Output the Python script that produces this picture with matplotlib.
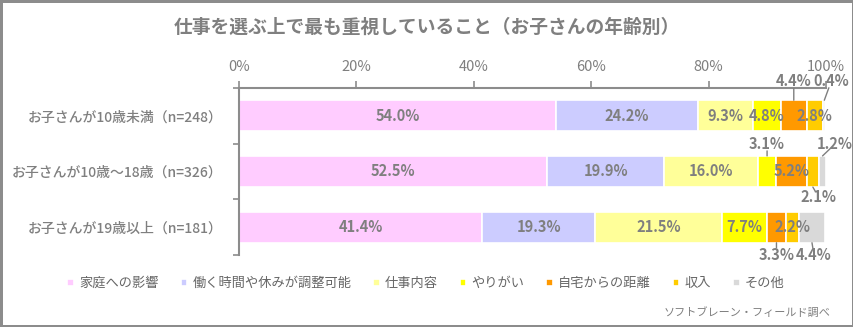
import matplotlib.pyplot as plt
import numpy as np

plt.rcParams['font.family'] = ['Noto Sans CJK JP', 'DejaVu Sans']

groups = ["お子さんが10歳未満（n=248）", "お子さんが10歳～18歳（n=326）", "お子さんが19歳以上（n=181）"]
reasons = ["家庭への影響", "働く時間や休みが調整可能", "仕事内容", "やりがい", "自宅からの距離", "収入", "その他"]
values = [
    [54.0, 24.2, 9.3, 4.8, 4.4, 2.8, 0.4],
    [52.5, 19.9, 16.0, 3.1, 5.2, 2.1, 1.2],
    [41.4, 19.3, 21.5, 7.7, 3.3, 2.2, 4.4],
]
# labels that do not fit in the bar: (row, column) -> (side, dx pt, dy pt)
outside = {
    (0, 4): ("up", 0, 13.7),
    (0, 6): ("up", 5, 13.7),
    (1, 3): ("up", 0, 8.6),
    (1, 6): ("up", 9, 8.6),
    (1, 5): ("down", 4.3, 7.5),
    (2, 4): ("down", 0, 8.6),
    (2, 6): ("down", 1.4, 8.6),
}
colors = ["#FFCCFF", "#CCCCFF", "#FFFF99", "#FFFF00", "#FF9900", "#FFCC00", "#D9D9D9"]
gray = "#7F7F7F"

fig = plt.figure(figsize=(8.54, 3.27), dpi=100, linewidth=2.5, edgecolor="#8C8C8C")
ax = fig.add_axes([0.2799, 0.2202, 0.6874, 0.5107])

data = np.array(values)
left = np.zeros(len(groups))
ypos = np.arange(len(groups))
bar_h = 0.56
for j, name in enumerate(reasons):
    ax.barh(ypos, data[:, j], left=left, height=bar_h, color=colors[j],
            edgecolor="white", linewidth=1.2, label=name)
    for i in range(len(groups)):
        v = data[i, j]
        xc = left[i] + v / 2
        txt = f"{v:.1f}%"
        if (i, j) not in outside:
            ax.text(xc, i, txt, ha="center", va="center", color=gray,
                    fontsize=10.5, fontweight="bold")
        else:
            side, dx, dy = outside[(i, j)]
            if side == "up":
                y_edge, off = i - bar_h / 2, dy
            else:
                y_edge, off = i + bar_h / 2, -dy
            ax.annotate(txt, xy=(xc, y_edge), xytext=(dx, off),
                        textcoords="offset points", ha="center", va="center",
                        color=gray, fontsize=10.5, fontweight="bold",
                        annotation_clip=False,
                        arrowprops=dict(arrowstyle="-", color=gray, lw=1,
                                        patchA=None, shrinkA=5, shrinkB=0))
    left += data[:, j]

ax.set_xlim(0, 100)
ax.set_ylim(2.5, -0.5)
ax.xaxis.tick_top()
ax.set_xticks([0, 20, 40, 60, 80, 100])
ax.set_xticklabels([f"{t}%" for t in [0, 20, 40, 60, 80, 100]])
ax.tick_params(axis="x", colors="#8C8C8C", labelcolor=gray, labelsize=10.5,
               length=5, width=1.2, pad=5)
ax.set_yticks(ypos)
ax.set_yticklabels(groups, fontweight="medium")
ax.tick_params(axis="y", length=0, labelcolor=gray, labelsize=10, pad=12)
ax.set_yticks([-0.5, 0.5, 1.5, 2.5], minor=True)
ax.tick_params(axis="y", which="minor", length=4, width=1.2, colors="#8C8C8C")
for s in ["right", "bottom"]:
    ax.spines[s].set_visible(False)
for s in ["top", "left"]:
    ax.spines[s].set_color("#8C8C8C")
    ax.spines[s].set_linewidth(1.5)

fig.text(0.5, 0.915, "仕事を選ぶ上で最も重視していること（お子さんの年齢別）",
         ha="center", va="center", fontsize=13.5, fontweight="bold", color=gray)

fig.legend(loc="center left", bbox_to_anchor=(0.065, 0.133), ncol=7, frameon=False,
           handlelength=0.5, handleheight=0.5, handletextpad=0.4, columnspacing=1.65,
           fontsize=9.5, labelcolor="#666666")

fig.text(0.972, 0.045, "ソフトブレーン・フィールド調べ", ha="right", va="center",
         fontsize=8, color=gray)

fig.savefig("out.png", dpi=100)
